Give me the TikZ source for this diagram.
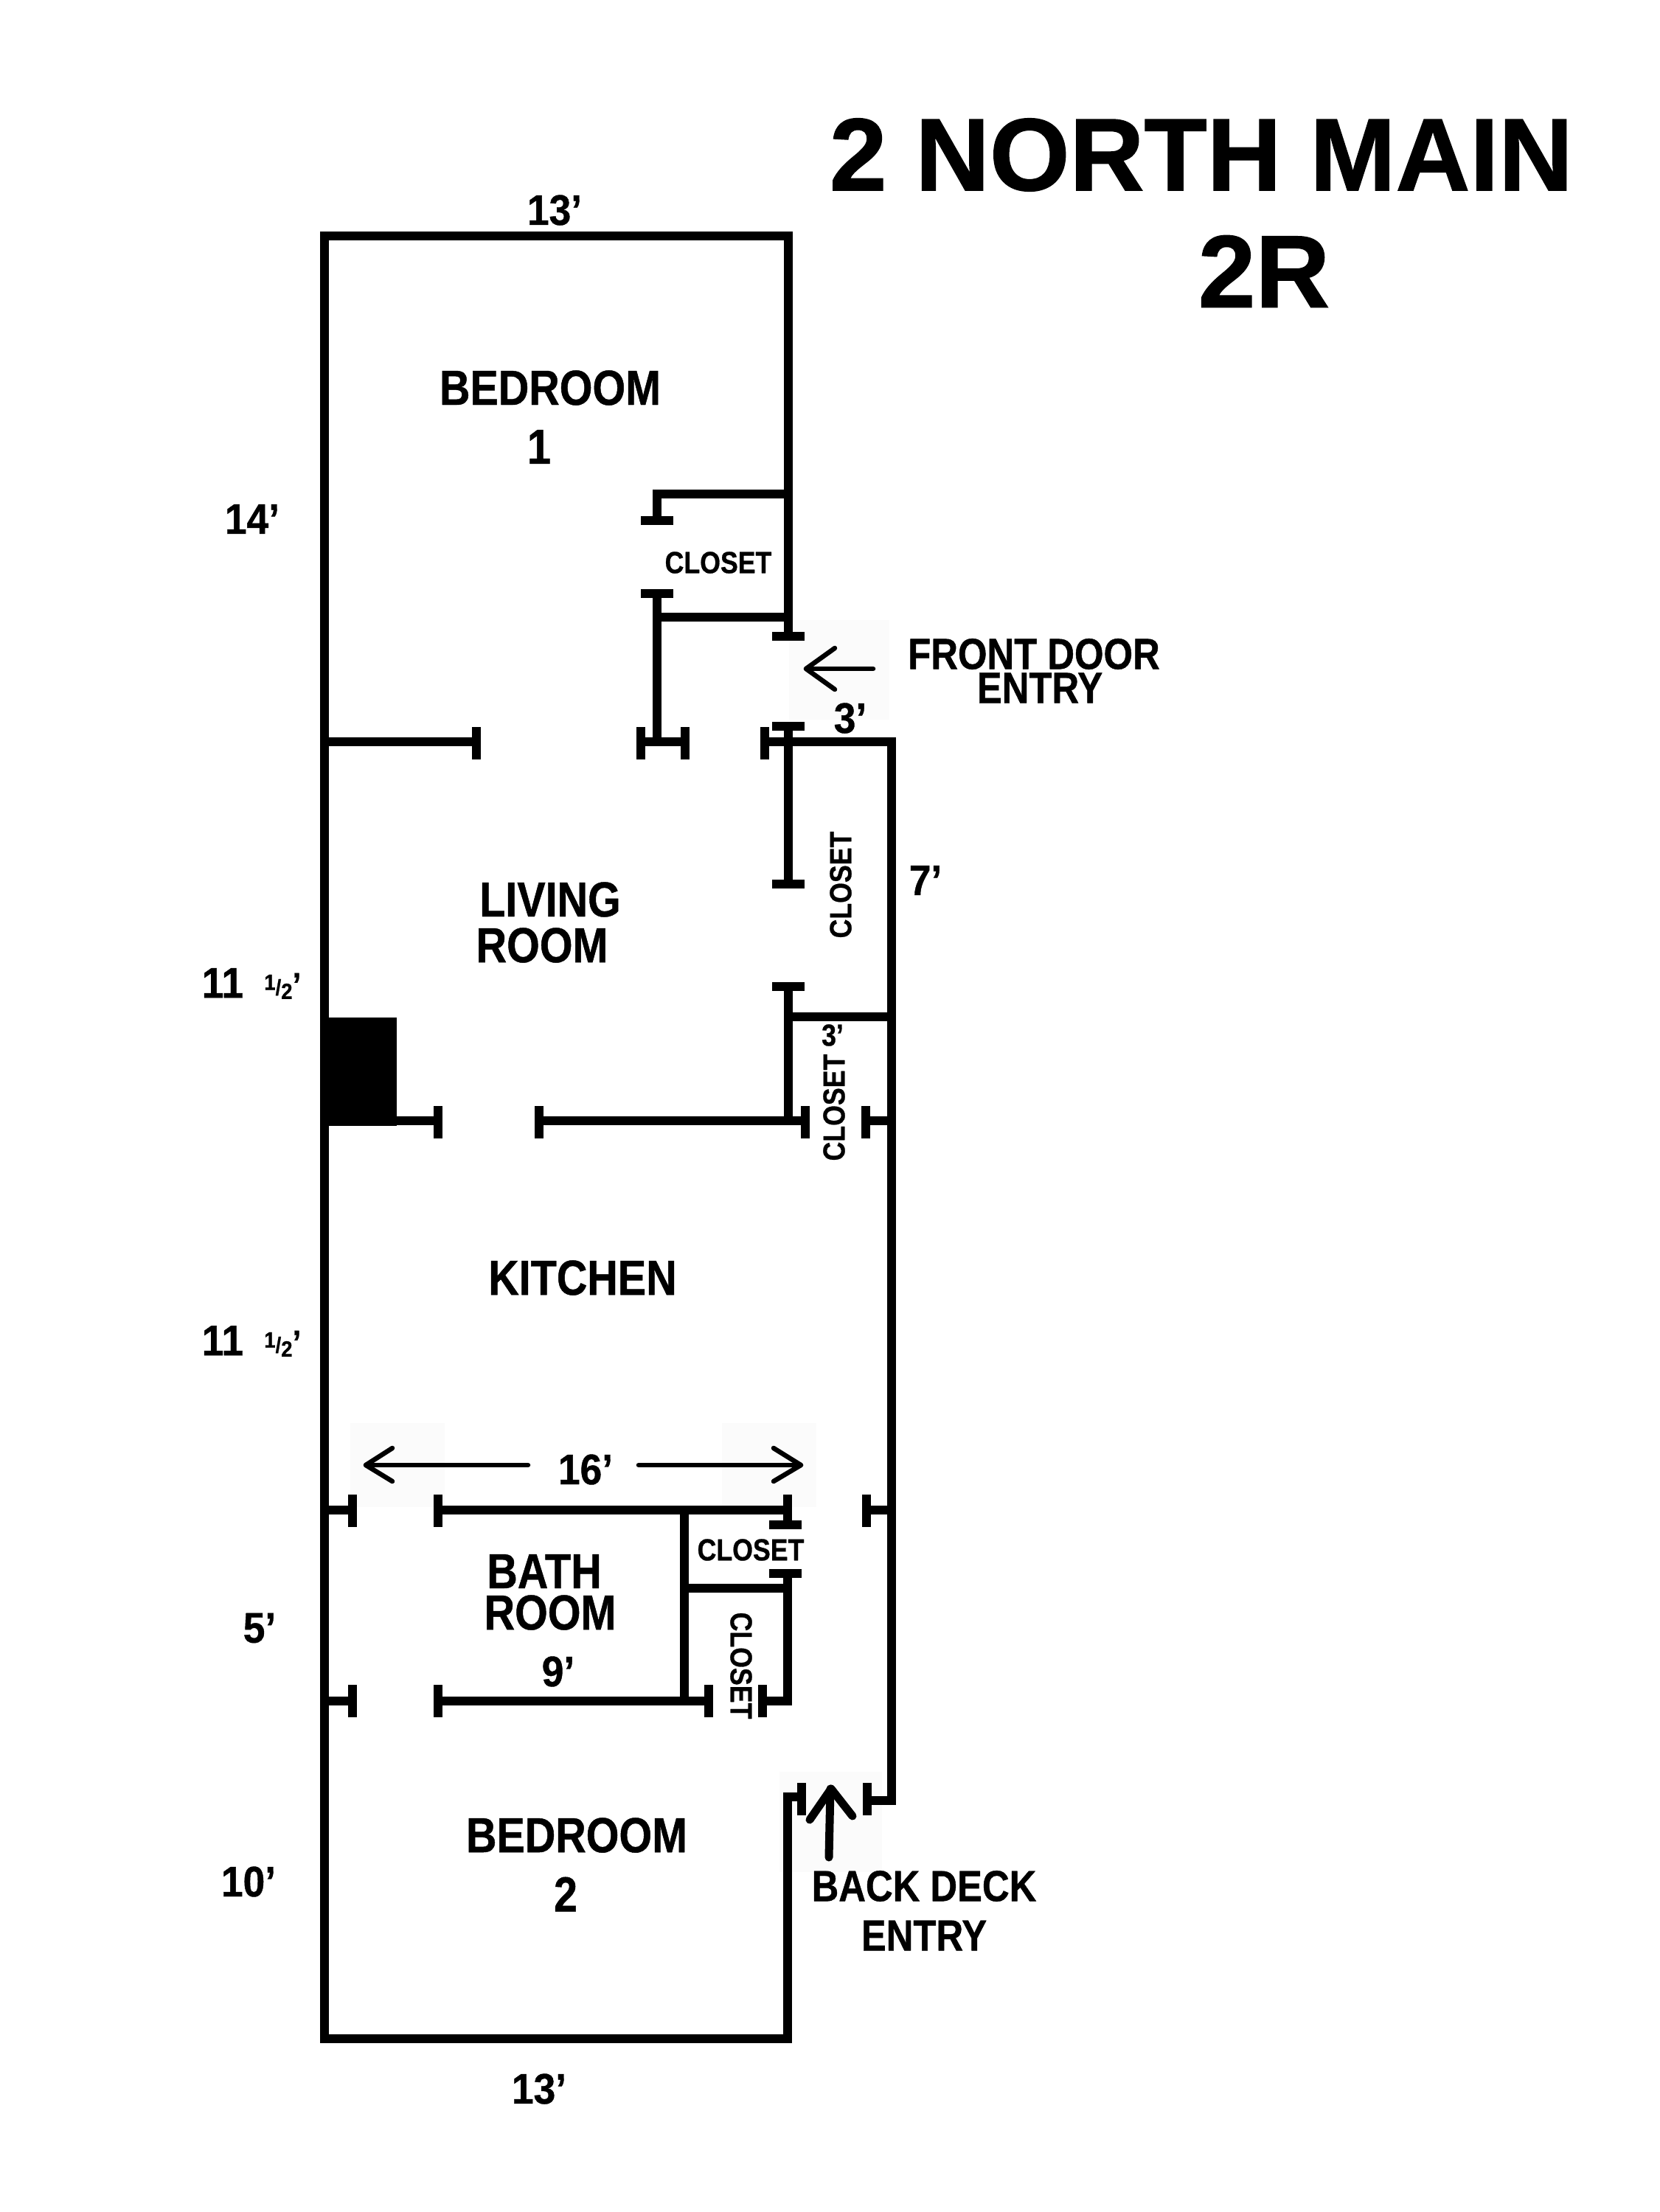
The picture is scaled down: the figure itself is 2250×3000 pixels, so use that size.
\documentclass[tikz,border=0pt]{standalone}
\usepackage{fontspec}
\setmainfont{Liberation Sans}[FakeStretch=0.86,BoldFeatures={FakeBold=0.7}]
\newfontfamily\titlefont{Liberation Sans}[BoldFeatures={FakeBold=1}]
\newfontfamily\dimfont{Liberation Sans}[FakeStretch=0.92,BoldFeatures={FakeBold=0.7}]
\newcommand{\halffoot}{{\fontsize{8.5}{9}\selectfont\raisebox{3pt}{1}\raisebox{1pt}{/}\raisebox{-0.5pt}{2}\fontsize{13}{13}\selectfont\raisebox{0.5pt}{’}}}
\tikzset{
    wall/.style={line width=0.12cm},
    pointer/.style={line width=0.065cm,line cap=round,line join=round},
    titlelbl/.style={font=\titlefont\bfseries\fontsize{39.7}{40}\selectfont,inner sep=0pt},
    roomlbl/.style={font=\bfseries\fontsize{19}{20}\selectfont,inner sep=0pt},
    entrylbl/.style={font=\bfseries\fontsize{16.8}{17}\selectfont,inner sep=0pt},
    dimlbl/.style={font=\dimfont\bfseries\fontsize{16.5}{17}\selectfont,inner sep=0pt},
    closetlbl/.style={font=\bfseries\fontsize{11.8}{12}\selectfont,inner sep=0pt}
}

\begin{document}
\begin{tikzpicture}[x=0.01cm,y=-0.01cm]
    \useasboundingbox (0,0) rectangle (2250,3000);
    % Faint patches behind the arrows
    \fill[gray!3] (1070,841) rectangle (1206,976);
    \fill[gray!3] (475,1930) rectangle (603,2044);
    \fill[gray!3] (979,1930) rectangle (1107,2044);
    \fill[gray!3] (1057,2403) rectangle (1196,2539);
    % Outer walls
    \draw[wall,line cap=rect] (1069,863) -- (1069,320) -- (440,320) -- (440,2765) -- (1068,2765) -- (1068,2437) -- (1087,2437);
    \draw[wall] (1037,1006) -- (1209,1006) -- (1209,2442) -- (1176,2442);
    % Chimney
    \fill (440,1380) rectangle (538,1527);
    % Inner walls
    \draw[wall] (440,1006) -- (646,1006);
    \draw[wall] (869,1006) -- (929,1006);
    \draw[wall] (891,706) -- (891,670) -- (1069,670);
    \draw[wall] (891,805) -- (891,1006);
    \draw[wall] (891,837) -- (1069,837);
    \draw[wall] (1069,985) -- (1069,1199);
    \draw[wall] (1069,1338) -- (1069,1520);
    \draw[wall] (1069,1379) -- (1209,1379);
    \draw[wall] (538,1520) -- (594,1520);
    \draw[wall] (731,1520) -- (1092,1520);
    \draw[wall] (1174,1520) -- (1209,1520);
    \draw[wall] (440,2048) -- (478,2048);
    \draw[wall] (594,2048) -- (1070,2048);
    \draw[wall] (1175,2048) -- (1209,2048);
    \draw[wall] (1068,2030) -- (1068,2068);
    \draw[wall] (928,2048) -- (928,2307);
    \draw[wall] (928,2154) -- (1068,2154);
    \draw[wall] (1068,2134) -- (1068,2307) -- (1034,2307);
    \draw[wall] (440,2307) -- (478,2307);
    \draw[wall] (594,2307) -- (961,2307);
    % Door ends, upright
    \foreach \x/\y in {646/1008,869/1008,929/1008,1037/1008,594/1522,731/1522,1092/1522,1174/1522,
                       478/2049,594/2049,1068/2049,1175/2049,478/2307,594/2307,961/2307,1034/2307,1087/2440,1176/2440}
        {
            \draw[wall] (\x,\y-22) -- (\x,\y+22);
        }
    % Door ends, flat
    \foreach \x/\y in {891/706,891/805,1069/863,1069/985,1069/1199,1069/1338,1065/2068,1065/2134}
        {
            \draw[wall] (\x-22,\y) -- (\x+22,\y);
        }
    % Arrows
    \draw[pointer] (1184,907) -- (1093,907);
    \draw[pointer] (1132,879) -- (1093,907) -- (1132,935);
    \draw[pointer] (716,1987) -- (496,1987);
    \draw[pointer] (532,1964) -- (496,1987) -- (532,2009);
    \draw[pointer] (866,1987) -- (1086,1987);
    \draw[pointer] (1049,1964) -- (1086,1987) -- (1049,2009);
    \draw[pointer,line width=0.11cm] (1124,2519) -- (1126,2426);
    \draw[pointer,line width=0.11cm] (1098,2468) -- (1127,2426) -- (1156,2463);
    % Title
    \node[titlelbl] (title) at (1629,210) {2 NORTH MAIN};
    \node[titlelbl] (unit) at (1714,368) {2R};
    % Rooms
    \node[roomlbl] (bedA) at (746,526) {BEDROOM};
    \node[roomlbl] (bedAnum) at (731,606) {1};
    \node[roomlbl] (livA) at (746,1220) {LIVING};
    \node[roomlbl] (livB) at (735,1282) {ROOM};
    \node[roomlbl] (kitchen) at (790,1733) {KITCHEN};
    \node[roomlbl] (bathA) at (738,2131) {BATH};
    \node[roomlbl] (bathB) at (746,2187) {ROOM};
    \node[roomlbl] (bedB) at (782,2489) {BEDROOM};
    \node[roomlbl] (bedBnum) at (767,2569) {2};
    % Closets
    \node[closetlbl] (closetA) at (974,763) {CLOSET};
    \node[closetlbl,rotate=90] (closetB) at (1140,1200) {CLOSET};
    \node[closetlbl,rotate=90] (closetC) at (1131,1502) {CLOSET};
    \node[closetlbl] (closetD) at (1018,2102) {CLOSET};
    \node[closetlbl,rotate=-90] (closetE) at (1005,2259) {CLOSET};
    % Entries
    \node[entrylbl] (frontA) at (1402,887) {FRONT DOOR};
    \node[entrylbl] (frontB) at (1410,933) {ENTRY};
    \node[entrylbl] (backA) at (1253,2558) {BACK DECK};
    \node[entrylbl] (backB) at (1253,2625) {ENTRY};
    % Dimensions
    \node[dimlbl] (dimtop) at (752,285) {13’};
    \node[dimlbl] (dimbed) at (342,704) {14’};
    \node[dimlbl] (dimdoor) at (1153,974) {3’};
    \node[dimlbl] (dimclo) at (1255,1194) {7’};
    \node[closetlbl] (dimsmall) at (1129,1404) {3’};
    \node[dimlbl] (dimliv) at (341,1334) {11\hspace{8pt}\halffoot};
    \node[dimlbl] (dimkit) at (341,1819) {11\hspace{8pt}\halffoot};
    \node[dimlbl] (dimlong) at (794,1993) {16’};
    \node[dimlbl] (dimbath) at (352,2208) {5’};
    \node[dimlbl] (dimwide) at (757,2267) {9’};
    \node[dimlbl] (dimback) at (337,2552) {10’};
    \node[dimlbl] (dimbot) at (731,2833) {13’};
\end{tikzpicture}
\end{document}
